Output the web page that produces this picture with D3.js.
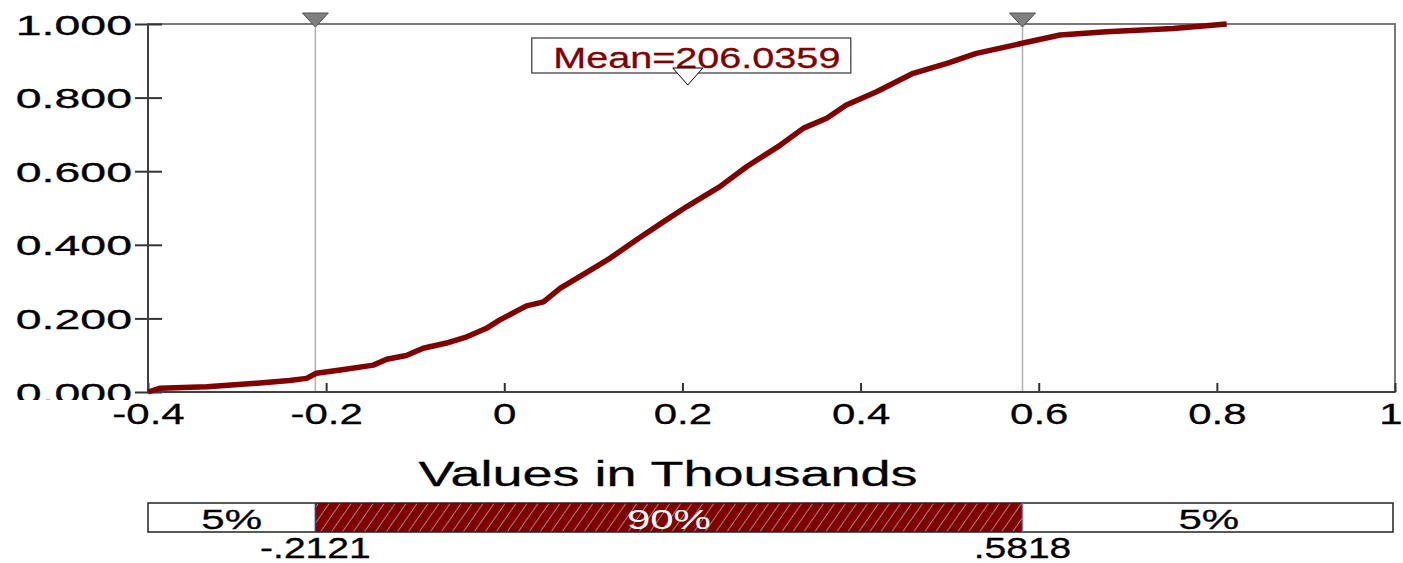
<!DOCTYPE html>
<html>
<head>
<meta charset="utf-8">
<script src="https://cdnjs.cloudflare.com/ajax/libs/d3/7.8.5/d3.min.js"></script>
<style>
  body { margin: 0; background: #fff; }
  text { font-family: "Liberation Sans", Arial, sans-serif; }
</style>
</head>
<body>
<div id="chart-area"></div>
<script>
// cumulative curve, x in thousands
var cdfX = [-0.400,-0.387,-0.334,-0.278,-0.241,-0.222,-0.211,-0.184,-0.147,-0.132,-0.110,-0.091,-0.065,-0.042,-0.020,-0.005,
            0.025,0.044,0.063,0.094,0.119,0.151,0.179,0.205,0.242,0.272,0.310,0.336,0.362,0.384,0.418,0.459,0.497,0.530,
            0.584,0.624,0.676,0.751,0.811];
var cdfP = [0.000,0.010,0.014,0.024,0.031,0.037,0.051,0.060,0.073,0.089,0.099,0.119,0.133,0.150,0.173,0.196,
            0.234,0.245,0.282,0.327,0.364,0.418,0.463,0.504,0.558,0.612,0.671,0.717,0.744,0.780,0.816,0.866,0.893,0.920,
            0.949,0.970,0.979,0.988,1.000];

var xTicks = [-0.4,-0.2,0,0.2,0.4,0.6,0.8,1];
var xTickLabels = ["-0.4","-0.2","0","0.2","0.4","0.6","0.8","1"];
var yTicks = [0,0.2,0.4,0.6,0.8,1];
var yTickLabels = ["0.000","0.200","0.400","0.600","0.800","1.000"];

var meanValue = 0.2060359;
var meanLabel = "Mean=206.0359";
var cutValues = [-0.2121, 0.5818];
var cutLabels = ["-.2121", ".5818"];
var bandLabels = ["5%", "90%", "5%"];
var axisTitle = "Values in Thousands";

var W = 1403, H = 563;
var plot = {left: 148, right: 1395, top: 24, bottom: 392};

var svg = d3.select("#chart-area")
  .append("svg")
  .attr("width", W)
  .attr("height", H);

var defs = svg.append("defs");

var x = d3.scaleLinear().domain([-0.4, 1]).range([plot.left, plot.right]);
var y = d3.scaleLinear().domain([0, 1]).range([plot.bottom, plot.top]);

// helper: horizontally stretched text (the original font is wide)
function wideText(parent, tx, ty, str, size, sx, anchor, color) {
  return parent.append("text")
    .attr("transform", "translate(" + tx + "," + ty + ") scale(" + sx + ",1)")
    .attr("text-anchor", anchor)
    .attr("font-size", size + "px")
    .attr("fill", color || "#000")
    .attr("stroke", color || "#000")
    .attr("stroke-width", 0.3)
    .text(str);
}

// frame (top/right gray)
svg.append("rect")
  .attr("x", plot.left).attr("y", plot.top)
  .attr("width", plot.right - plot.left).attr("height", plot.bottom - plot.top)
  .attr("fill", "none").attr("stroke", "#7a7a7a").attr("stroke-width", 2);

// cut lines
svg.selectAll(".cut")
  .data(cutValues)
  .enter().append("line")
  .attr("class", "cut")
  .attr("x1", function(d){ return x(d); }).attr("x2", function(d){ return x(d); })
  .attr("y1", plot.top).attr("y2", plot.bottom)
  .attr("stroke", "#b0b0b0").attr("stroke-width", 1.5);

// y axis
defs.append("clipPath").attr("id", "yclip")
  .append("rect").attr("x", -160).attr("y", -20).attr("width", 200).attr("height", 420);

var yAxis = d3.axisLeft(y)
  .tickValues(yTicks)
  .tickSize(13)
  .tickPadding(16)
  .tickFormat(function(d, i){ return yTickLabels[i]; });

var gy = svg.append("g")
  .attr("transform", "translate(" + plot.left + ",0)")
  .attr("clip-path", "url(#yclip)")
  .call(yAxis);
gy.select(".domain").remove();
gy.selectAll(".tick line").attr("x1", 14).attr("x2", -13).attr("stroke", "#333").attr("stroke-width", 2);
gy.selectAll(".tick text")
  .attr("font-family", null)
  .attr("font-size", "28px")
  .attr("fill", "#000")
  .attr("stroke", "#000")
  .attr("stroke-width", 0.3)
  .attr("transform", "scale(1.66,1)")
  .attr("x", -16 / 1.66)
  .attr("dy", "0.36em");

// x axis
var xAxis = d3.axisBottom(x)
  .tickValues(xTicks)
  .tickSizeInner(-9)
  .tickSizeOuter(0)
  .tickFormat(function(d, i){ return xTickLabels[i]; });

var gx = svg.append("g")
  .attr("transform", "translate(0," + plot.bottom + ")")
  .call(xAxis);
gx.select(".domain").remove();
gx.selectAll(".tick line").attr("stroke", "#333").attr("stroke-width", 2);
gx.selectAll(".tick text")
  .attr("font-family", null)
  .attr("font-size", "30px")
  .attr("fill", "#000")
  .attr("stroke", "#000")
  .attr("stroke-width", 0.3)
  .attr("transform", "scale(1.4,1)")
  .attr("y", 11)
  .attr("dy", "0.71em");
// last label sits against the page edge
gx.selectAll(".tick text").filter(function(d){ return d === 1; })
  .attr("text-anchor", "end")
  .attr("x", 7 / 1.4);

// dark axis lines
svg.append("line")
  .attr("x1", plot.left).attr("x2", plot.left).attr("y1", plot.top).attr("y2", plot.bottom)
  .attr("stroke", "#404040").attr("stroke-width", 2);
svg.append("line")
  .attr("x1", plot.left).attr("x2", plot.right).attr("y1", plot.bottom).attr("y2", plot.bottom)
  .attr("stroke", "#404040").attr("stroke-width", 2);

// curve
var line = d3.line()
  .x(function(d){ return x(d[0]); })
  .y(function(d){ return y(d[1]); });

svg.append("path")
  .datum(d3.zip(cdfX, cdfP))
  .attr("d", line)
  .attr("fill", "none")
  .attr("stroke", "#800000")
  .attr("stroke-width", 5.5)
  .attr("stroke-linejoin", "round");

// top markers for the cuts
svg.selectAll(".marker")
  .data(cutValues)
  .enter().append("path")
  .attr("class", "marker")
  .attr("d", function(d){
    var cx = x(d);
    return "M" + (cx - 13) + "," + 13 + "L" + (cx + 13) + "," + 13 + "L" + cx + "," + 27 + "Z";
  })
  .attr("fill", "#808080").attr("stroke", "#505050").attr("stroke-width", 1);

// mean label box
var mx = x(meanValue);
svg.append("rect")
  .attr("x", mx - 156).attr("y", 38)
  .attr("width", 319).attr("height", 35)
  .attr("fill", "#fff").attr("stroke", "#333").attr("stroke-width", 1.2);
wideText(svg, mx + 9, 68, meanLabel, 30, 1.32, "middle", "#800000");
svg.append("path")
  .attr("d", "M" + (mx - 15) + ",68L" + (mx + 15) + ",68L" + mx + ",85Z")
  .attr("fill", "#fff").attr("stroke", "#000").attr("stroke-width", 1);

// axis title
wideText(svg, 668, 486, axisTitle, 36, 1.5, "middle");

// bottom band
var bandTop = 503, bandH = 29;
var pat = defs.append("pattern")
  .attr("id", "hatch")
  .attr("patternUnits", "userSpaceOnUse")
  .attr("width", 9).attr("height", 9)
  .attr("patternTransform", "rotate(35)");
pat.append("rect").attr("width", 9).attr("height", 9).attr("fill", "#800000");
pat.append("line").attr("x1", 0).attr("x2", 0).attr("y1", 0).attr("y2", 9)
  .attr("stroke", "#a08080").attr("stroke-width", 2);

var edges = [-0.4, cutValues[0], cutValues[1], 1];
var bands = bandLabels.map(function(lbl, i){ return {lbl: lbl, a: edges[i], b: edges[i + 1], mid: i === 1}; });

svg.selectAll(".band")
  .data(bands)
  .enter().append("rect")
  .attr("class", "band")
  .attr("x", function(d){ return x(d.a); })
  .attr("width", function(d){ return x(d.b) - x(d.a); })
  .attr("y", bandTop).attr("height", bandH)
  .attr("fill", function(d){ return d.mid ? "url(#hatch)" : "#fff"; });

svg.append("rect")
  .attr("x", x(-0.4)).attr("y", bandTop)
  .attr("width", x(1) - x(-0.4) - 2).attr("height", bandH)
  .attr("fill", "none").attr("stroke", "#222").attr("stroke-width", 1.5);

svg.selectAll(".bandcut")
  .data(cutValues)
  .enter().append("line")
  .attr("class", "bandcut")
  .attr("x1", function(d){ return x(d); }).attr("x2", function(d){ return x(d); })
  .attr("y1", bandTop).attr("y2", bandTop + bandH)
  .attr("stroke", function(d, i){ return i === 0 ? "#3a3a8a" : "#7777cc"; })
  .attr("stroke-width", 1.5);

bands.forEach(function(d){
  wideText(svg, (x(d.a) + x(d.b)) / 2, bandTop + 26, d.lbl, 28, 1.5, "middle", d.mid ? "#fff" : "#000")
    .attr("stroke-width", d.mid ? 0 : 0.3);
});

cutValues.forEach(function(v, i){
  wideText(svg, x(v), 558, cutLabels[i], 30, 1.3, "middle");
});
</script>
</body>
</html>
